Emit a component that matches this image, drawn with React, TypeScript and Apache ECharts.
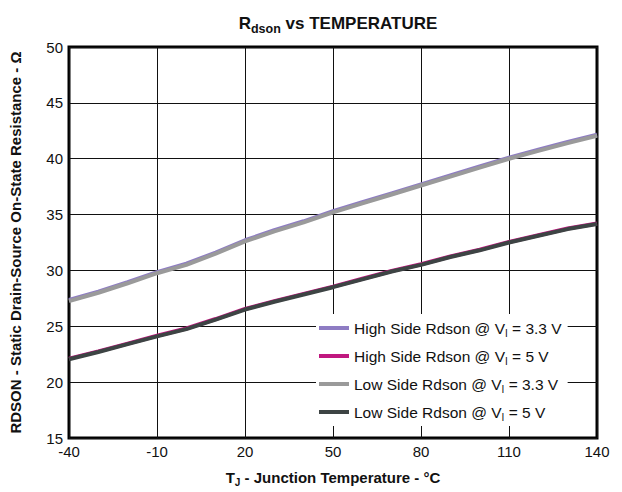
import React, { useEffect, useRef } from "react";
import * as echarts from "echarts";

const temps = [-40, -30, -20, -10, 0, 10, 20, 30, 40, 50, 60, 70, 80, 90, 100, 110, 120, 130, 140];
const highSide33 = [27.35, 28.1, 28.95, 29.85, 30.6, 31.6, 32.7, 33.6, 34.4, 35.3, 36.1, 36.9, 37.7, 38.5, 39.3, 40.1, 40.8, 41.5, 42.15];
const lowSide33 = [27.25, 28.0, 28.85, 29.75, 30.5, 31.5, 32.6, 33.5, 34.3, 35.2, 36.0, 36.8, 37.6, 38.4, 39.2, 40.0, 40.7, 41.4, 42.05];
const highSide5 = [22.1, 22.75, 23.45, 24.15, 24.8, 25.65, 26.55, 27.25, 27.9, 28.55, 29.25, 29.95, 30.55, 31.25, 31.85, 32.55, 33.15, 33.75, 34.2];
const lowSide5 = [22.05, 22.7, 23.4, 24.1, 24.75, 25.6, 26.5, 27.2, 27.85, 28.5, 29.2, 29.9, 30.5, 31.2, 31.8, 32.5, 33.1, 33.7, 34.15];

const seriesNames = [
  "High Side Rdson @ VI = 3.3 V",
  "High Side Rdson @ VI = 5 V",
  "Low Side Rdson @ VI = 3.3 V",
  "Low Side Rdson @ VI = 5 V",
];
const legendLabels = [
  "High Side Rdson @ V{sub|I} = 3.3 V",
  "High Side Rdson @ V{sub|I} = 5 V",
  "Low Side Rdson @ V{sub|I} = 3.3 V",
  "Low Side Rdson @ V{sub|I} = 5 V",
];
const seriesColors = ["#8e7cc3", "#c0187f", "#9a9a9a", "#3d4444"];
const seriesData = [highSide33, highSide5, lowSide33, lowSide5];

const FONT = "'Liberation Sans', Arial, Helvetica, sans-serif";

export default function App() {
  const ref = useRef<HTMLDivElement>(null);
  useEffect(() => {
    document.body.style.margin = "0";
    const chart = echarts.init(ref.current!, null, { renderer: "svg" });
    const drawOrder = [0, 2, 1, 3];
    chart.setOption({
      animation: false,
      backgroundColor: "#fff",
      textStyle: { fontFamily: FONT },
      title: {
        text: "R{sub|dson} vs TEMPERATURE",
        left: 333,
        textAlign: "center",
        top: 6,
        textStyle: {
          fontFamily: FONT,
          fontSize: 17,
          fontWeight: "bold",
          color: "#111",
          lineHeight: 24,
          rich: {
            sub: { fontFamily: FONT, fontSize: 12.5, fontWeight: "bold", color: "#111", lineHeight: 12, verticalAlign: "bottom" },
          },
        },
      },
      grid: {
        left: 68,
        right: 25,
        top: 47,
        bottom: 53,
        show: true,
        borderColor: "#000",
        borderWidth: 3,
      },
      legend: {
        orient: "vertical",
        left: 316,
        top: 314,
        padding: [4, 6, 4, 3],
        backgroundColor: "#fff",
        itemWidth: 30,
        itemHeight: 4,
        itemGap: 8,
        icon: "rect",
        data: seriesNames,
        formatter: (name: string) => legendLabels[seriesNames.indexOf(name)],
        textStyle: {
          fontFamily: FONT,
          fontSize: 15.5,
          color: "#111",
          lineHeight: 20,
          rich: {
            sub: { fontFamily: FONT, fontSize: 10, color: "#111", lineHeight: 10, verticalAlign: "bottom" },
          },
        },
      },
      xAxis: {
        type: "value",
        min: -40,
        max: 140,
        interval: 30,
        name: "T{sub|J} - Junction Temperature - °C",
        nameLocation: "middle",
        nameGap: 29,
        nameTextStyle: {
          fontFamily: FONT,
          fontSize: 15,
          fontWeight: "bold",
          color: "#111",
          lineHeight: 20,
          rich: {
            sub: { fontFamily: FONT, fontSize: 10, fontWeight: "bold", color: "#111", lineHeight: 10, verticalAlign: "bottom" },
          },
        },
        axisLine: { show: false },
        axisTick: { show: false },
        axisLabel: { fontFamily: FONT, fontSize: 15, color: "#111", margin: 6 },
        splitLine: { show: true, lineStyle: { color: "#111", width: 1 } },
      },
      yAxis: {
        type: "value",
        min: 15,
        max: 50,
        interval: 5,
        name: "RDSON - Static Drain-Source On-State Resistance - Ω",
        nameLocation: "middle",
        nameGap: 46,
        nameTextStyle: { fontFamily: FONT, fontSize: 15, fontWeight: "bold", color: "#111" },
        axisLine: { show: false },
        axisTick: { show: false },
        axisLabel: { fontFamily: FONT, fontSize: 15, color: "#111", margin: 6 },
        splitLine: { show: true, lineStyle: { color: "#111", width: 1 } },
      },
      series: drawOrder.map((i) => ({
        name: seriesNames[i],
        type: "line",
        color: seriesColors[i],
        showSymbol: false,
        lineStyle: { width: 4, color: seriesColors[i] },
        data: temps.map((t, k) => [t, seriesData[i][k]]),
      })),
    });
    return () => chart.dispose();
  }, []);
  return <div ref={ref} style={{ width: 622, height: 492 }} />;
}
